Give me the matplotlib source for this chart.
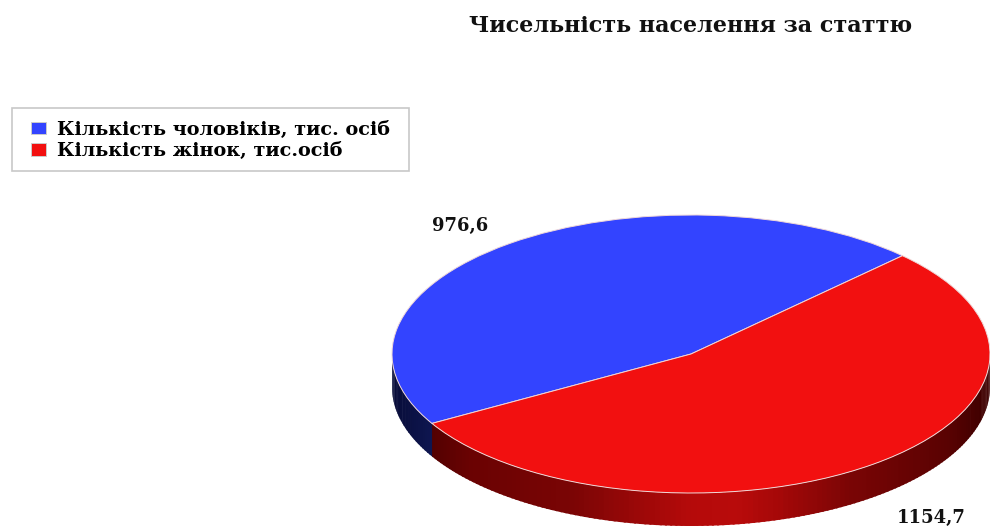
import numpy as np
import matplotlib
matplotlib.use("Agg")
import matplotlib.pyplot as plt
from matplotlib.colors import LinearSegmentedColormap
from matplotlib.patches import Polygon, Rectangle

title = "Чисельність населення за статтю"
categories = ["Кількість чоловіків, тис. осіб", "Кількість жінок, тис.осіб"]
values = [976.6, 1154.7]
value_labels = ["976,6", "1154,7"]
colors = ["#3344ff", "#f21010"]

W, H = 990, 528
CX, CY, RX, RY, DEPTH = 691, 354, 299, 139, 33

fig = plt.figure(figsize=(W / 100, H / 100), dpi=100, facecolor="white")
ax = fig.add_axes([0, 0, 1, 1])

wedges, _ = ax.pie(values, colors=colors, startangle=45, radius=1,
                   wedgeprops=dict(edgecolor="#f0d8d8", linewidth=0.7, zorder=5))
ax.set_aspect("auto")
ax.set_xlim(-CX / RX, (W - CX) / RX)
ax.set_ylim(-(H - CY) / RY, CY / RY)
ax.axis("off")

depth = DEPTH / RY
blue_cmap = LinearSegmentedColormap.from_list("b", ["#080c38", "#0e1650", "#18246e"])
red_cmap = LinearSegmentedColormap.from_list(
    "r", [(0, "#3c0000"), (0.13, "#6a0202"), (0.3, "#7a0505"), (0.5, "#b50a0a"),
          (0.58, "#b80b0b"), (0.65, "#a50808"), (0.77, "#7a0505"), (0.93, "#5a0202"),
          (1, "#3c0000")])

# side wall: follows the wedge angles derived from the values
boundary = 45 + 360 * values[0] / sum(values)
edges = np.arange(180, 360.01, 1.0)
for a0, a1 in zip(edges[:-1], edges[1:]):
    t = np.radians(np.linspace(a0, a1 + 0.4, 4))
    x, y = np.cos(t), np.sin(t)
    xm = (x.mean() + 1) / 2
    col = blue_cmap(xm / 0.134 if xm < 0.134 else 1.0) if a0 < boundary else red_cmap(xm)
    ax.add_patch(Polygon(np.r_[np.c_[x, y], np.c_[x[::-1], y[::-1] - depth]],
                         closed=True, facecolor=col, edgecolor="none", zorder=2))

fig.text(691 / W, 1 - 26 / H, title, ha="center", va="center",
         family="DejaVu Serif", weight="bold", fontsize=16, color="#111111")

fig.add_artist(Rectangle((12 / W, 1 - 171 / H), 397 / W, 63 / H, transform=fig.transFigure,
                         facecolor="white", edgecolor="#c8c8c8", linewidth=1.2))
leg = fig.legend(wedges, categories, loc="upper left",
                 bbox_to_anchor=(31 / W, 1 - 121 / H), bbox_transform=fig.transFigure,
                 prop=dict(family="DejaVu Serif", weight="bold", size=13.9),
                 frameon=False, borderpad=0, borderaxespad=0, labelspacing=0.17,
                 handlelength=0.8, handleheight=0.6, handletextpad=0.55)
for h in leg.legend_handles:
    h.set_edgecolor("#cccccc")

for (px, py), lab in zip([(460, 226), (931, 518)], value_labels):
    fig.text(px / W, 1 - py / H, lab, ha="center", va="center",
             family="DejaVu Serif", weight="bold", fontsize=13, color="#111111")

fig.savefig("out.png", dpi=100)
